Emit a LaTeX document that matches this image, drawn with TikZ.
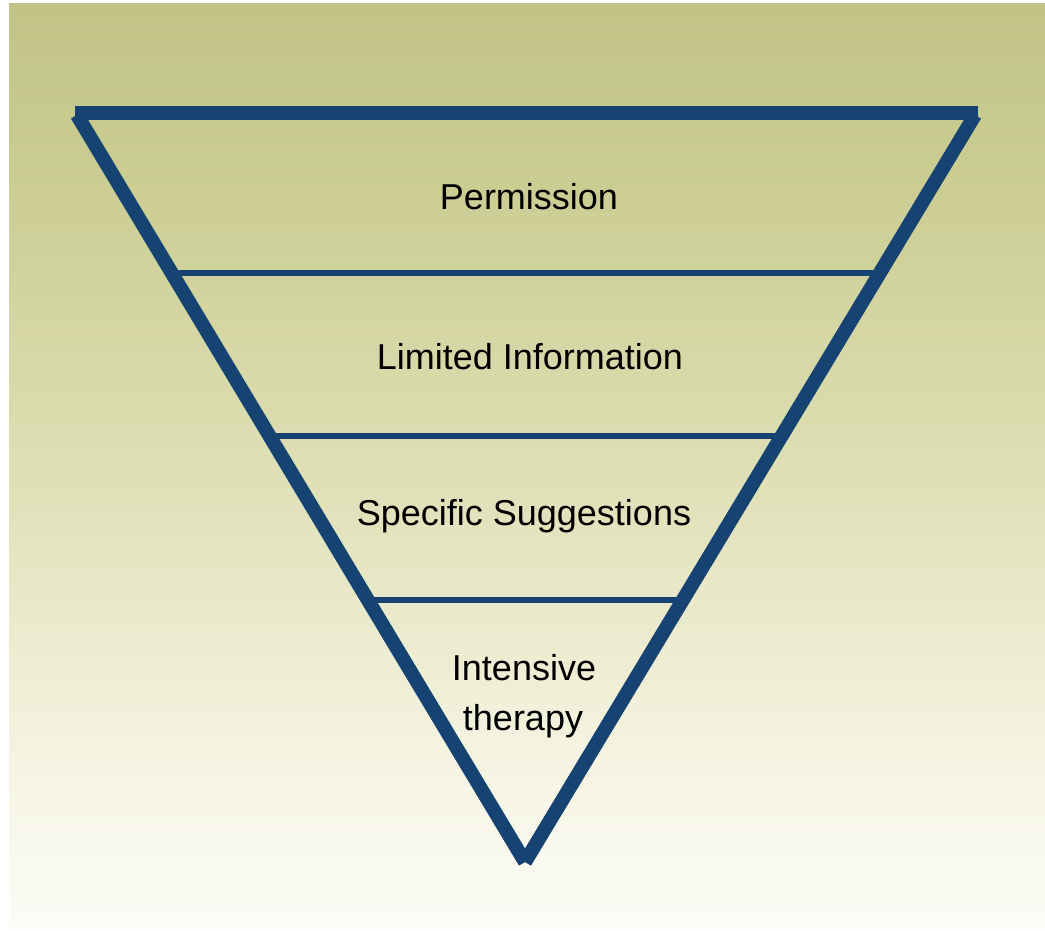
\documentclass[tikz,border=0pt]{standalone}
\usepackage{fontspec}
\setmainfont{Liberation Sans}
\usetikzlibrary{calc}
\definecolor{lineblue}{RGB}{22,67,114}
\definecolor{bgA}{RGB}{252,252,247}
\definecolor{bgB}{RGB}{244,243,224}
\definecolor{bgC}{RGB}{222,223,180}
\definecolor{bgD}{RGB}{203,205,147}
\definecolor{bgE}{RGB}{193,196,133}
\pgfdeclareverticalshading{bgshade}{100bp}{color(0bp)=(bgA); color(25bp)=(bgA); color(35bp)=(bgB); color(50bp)=(bgC); color(65bp)=(bgD); color(75bp)=(bgE); color(100bp)=(bgE)}
\tikzset{
  side/.style={draw=lineblue, line width=14pt, line cap=butt},
  divider/.style={draw=lineblue, line width=5.5pt},
  label/.style={font=\fontsize{36}{50}\selectfont, text=black, anchor=base, align=center, inner sep=0pt},
}
\begin{document}
\begin{tikzpicture}[x=1pt,y=-1pt]
\useasboundingbox (0,0) rectangle (1045,931);
\fill[white] (0,0) rectangle (1045,931);
\shade[shading=bgshade] (9,4) rectangle (1045,928);
% triangle corners
\coordinate (tl) at (75,113);
\coordinate (tr) at (978,113);
\coordinate (ls) at (77,115);
\coordinate (rs) at (975,115);
\coordinate (tip) at (525,862);
% dividers
\coordinate (d1l) at ($(ls)!{(273-115)/747}!(tip)$);
\coordinate (d1r) at ($(rs)!{(273-115)/747}!(tip)$);
\coordinate (d2l) at ($(ls)!{(436-115)/747}!(tip)$);
\coordinate (d2r) at ($(rs)!{(436-115)/747}!(tip)$);
\coordinate (d3l) at ($(ls)!{(600-115)/747}!(tip)$);
\coordinate (d3r) at ($(rs)!{(600-115)/747}!(tip)$);
\draw[divider] (d1l) -- (d1r);
\draw[divider] (d2l) -- (d2r);
\draw[divider] (d3l) -- (d3r);
\draw[side] (tl) -- (tr);
\draw[side] (ls) -- (tip);
\draw[side] (rs) -- (tip);
% labels
\node[label] (p1) at (529,209) {Permission};
\node[label] (p2) at (530,369) {Limited Information};
\node[label] (p3) at (524,525) {Specific Suggestions};
\node[label] (p4) at (524,680) {Intensive};
\node[label] (p5) at (523,730) {therapy};
\end{tikzpicture}
\end{document}
